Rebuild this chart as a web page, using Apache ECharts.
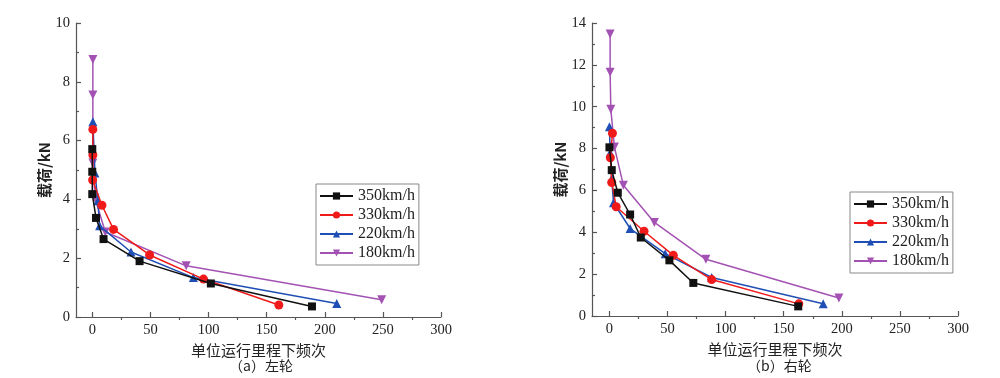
<!DOCTYPE html>
<html><head><meta charset="utf-8">
<script src="https://cdn.jsdelivr.net/npm/echarts@6/dist/echarts.min.js"></script>
<style>html,body{margin:0;padding:0;background:#fff}#c{width:1000px;height:378px}</style>
</head><body><div id="c"></div>
<script>
const seriesNames = ['350km/h','330km/h','220km/h','180km/h'];
const xTickValues = [0,50,100,150,200,250,300];
const xMinorTickValues = [25,75,125,175,225,275];
// Left wheel: [frequency, load kN]
const left350 = [[0,5.71],[0,4.94],[0,4.18],[3.2,3.37],[9.7,2.65],[40.7,1.90],[102,1.14],[189,0.36]];
const left330 = [[0.5,6.38],[0.5,5.51],[0.3,4.66],[8.3,3.80],[18.3,2.98],[49.3,2.11],[95.7,1.29],[160.5,0.41]];
const left220 = [[0.5,6.64],[2.3,4.90],[4.8,3.95],[6.3,3.10],[33.3,2.21],[87,1.34],[210.3,0.46]];
const left180 = [[0.5,8.76],[0.5,7.55],[0.5,5.24],[2.3,4.05],[11.2,2.89],[80.8,1.74],[249,0.59]];
// Right wheel
const right350 = [[0,8.06],[2,6.97],[7.2,5.89],[17.8,4.85],[27,3.75],[51.6,2.66],[72.2,1.58],[162.5,0.46]];
const right330 = [[2.6,8.73],[0.8,7.56],[2,6.38],[5.8,5.22],[29.8,4.05],[55,2.90],[88,1.74],[163,0.58]];
const right220 = [[0,9.04],[0.6,7.80],[2,6.57],[3.5,5.41],[17.8,4.18],[48,2.98],[88,1.84],[184,0.59]];
const right180 = [[0.6,13.48],[0.6,11.65],[1.2,9.88],[4.3,8.07],[12,6.25],[38.7,4.47],[83,2.71],[197.5,0.86]];

const serif = '"Liberation Serif","DejaVu Serif",serif';
const cjk = '"Noto Sans CJK SC","Liberation Serif",serif';
const colors = ['#111111','#f01a1a','#1f4fb4','#a352b3'];
const symbols = ['rect','circle','triangle','triangle'];
const rotates = [0,0,0,180];
const sizes = [8,9,9,9];

const chart = echarts.init(document.getElementById('c'));
const axisLineStyle = {color:'#555', width:1.2};

function xAxes(grid, min){
  return [{
    type:'value', gridIndex:grid, min:min, max:300,
    name:'单位运行里程下频次', nameLocation:'middle', nameGap:22,
    nameTextStyle:{fontFamily:cjk, fontSize:15, color:'#222'},
    axisLine:{show:true, onZero:false, lineStyle:axisLineStyle},
    axisTick:{show:true, inside:true, length:5, customValues:xTickValues, lineStyle:axisLineStyle},
    axisLabel:{customValues:xTickValues, fontFamily:serif, fontSize:14.5, color:'#222', margin:6},
    splitLine:{show:false}
  },{
    type:'value', gridIndex:grid, min:min, max:300,
    axisLine:{show:false},
    axisTick:{show:true, inside:true, length:3, customValues:xMinorTickValues, lineStyle:axisLineStyle},
    axisLabel:{show:false}, splitLine:{show:false}
  }];
}
function yAxis(grid, max){
  return {
    type:'value', gridIndex:grid, min:0, max:max, interval:2,
    name:'载荷/kN', nameLocation:'middle', nameGap:24,
    nameTextStyle:{fontFamily:cjk, fontSize:15, color:'#222', fontWeight:'bold'},
    axisLine:{show:true, onZero:false, lineStyle:axisLineStyle},
    axisTick:{show:true, inside:true, length:5, lineStyle:axisLineStyle},
    minorTick:{show:true, splitNumber:2, length:3, lineStyle:axisLineStyle},
    axisLabel:{fontFamily:serif, fontSize:14.5, color:'#222', margin:6},
    splitLine:{show:false}, minorSplitLine:{show:false}
  };
}
function mk(data, i, grid){
  return {
    type:'line', name:seriesNames[i], data:data,
    xAxisIndex: grid*2, yAxisIndex: grid,
    symbol:symbols[i], symbolRotate:rotates[i], symbolSize:sizes[i],
    showAllSymbol:true,
    lineStyle:{color:colors[i], width:1.5},
    itemStyle:{color:colors[i]},
    z: 10-i, animation:false
  };
}
function legend(left, top){
  return {
    orient:'vertical', left:left, top:top, data:seriesNames,
    backgroundColor:'#fff', borderColor:'#888', borderWidth:1,
    padding:[3,4,3,3], itemGap:1, itemWidth:33, itemHeight:9,
    textStyle:{fontFamily:serif, fontSize:16, color:'#222', lineHeight:18}
  };
}

chart.setOption({
  animation:false,
  grid:[
    {left:76, right:559, top:23, bottom:61},
    {left:592, right:42, top:23, bottom:62}
  ],
  xAxis:[...xAxes(0,-14), ...xAxes(1,-15)],
  yAxis:[yAxis(0,10), yAxis(1,14)],
  legend:[legend(316,184), legend(850,192)],
  series:[
    mk(left350,0,0), mk(left330,1,0), mk(left220,2,0), mk(left180,3,0),
    mk(right350,0,1), mk(right330,1,1), mk(right220,2,1), mk(right180,3,1)
  ],
  graphic:[
    {type:'text', left:258-29, top:359, style:{text:'（a）左轮', font:'14px "Noto Sans CJK SC"', fill:'#222'}},
    {type:'text', left:776-29, top:359, style:{text:'（b）右轮', font:'14px "Noto Sans CJK SC"', fill:'#222'}}
  ]
});
</script></body></html>
